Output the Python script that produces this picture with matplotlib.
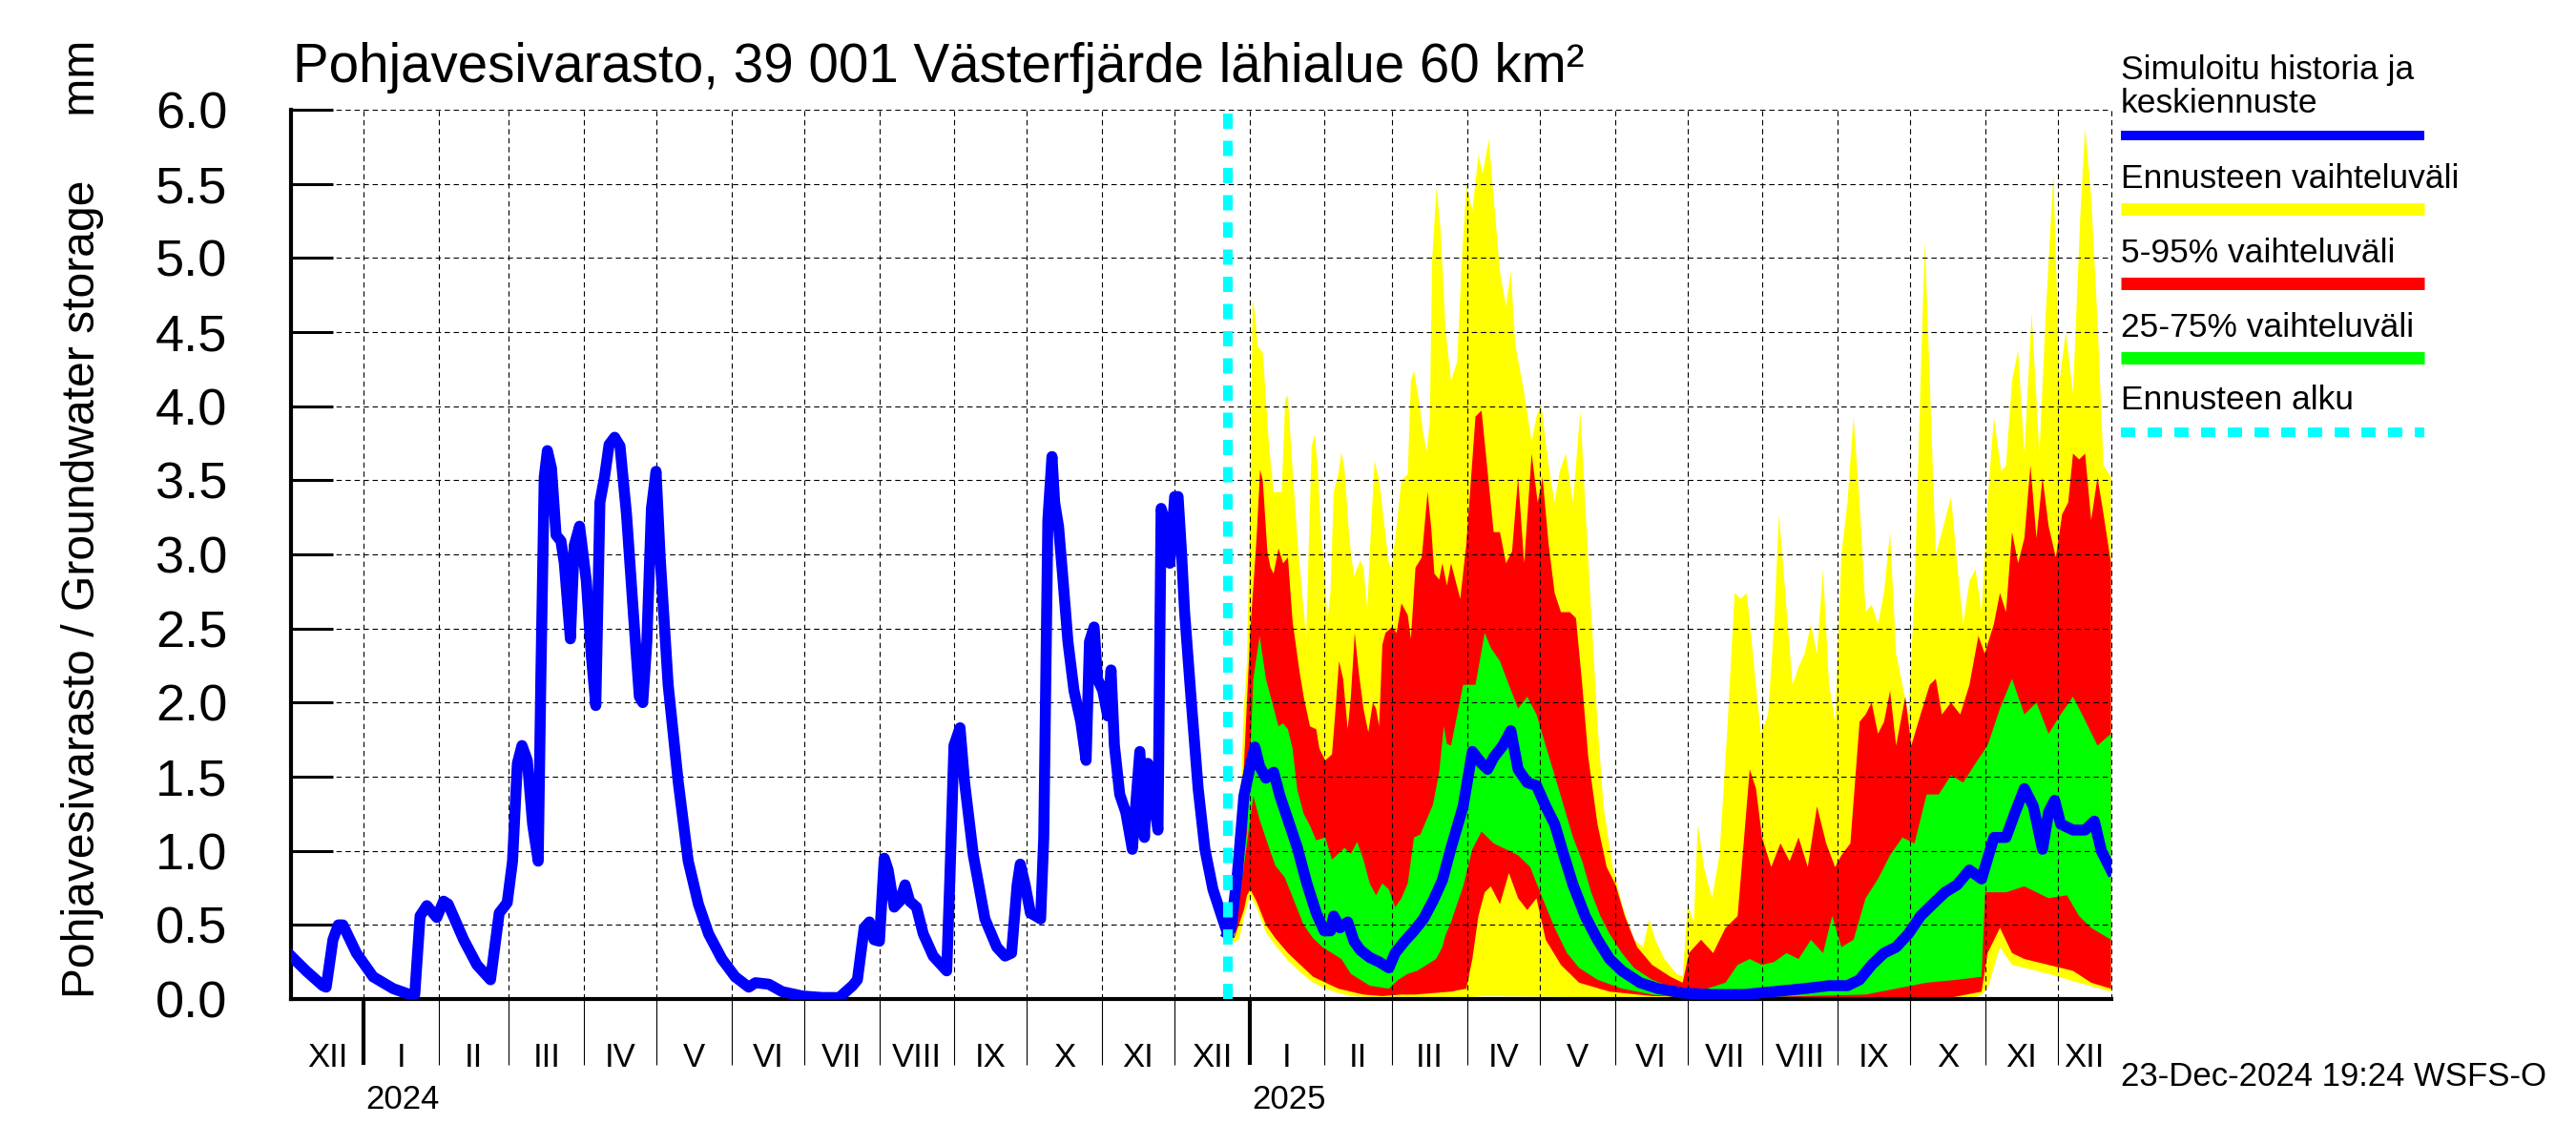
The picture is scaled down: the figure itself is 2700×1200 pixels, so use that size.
import numpy as np
import matplotlib
matplotlib.use("Agg")
from matplotlib import pyplot as plt
import matplotlib.dates as mdates
from matplotlib.lines import Line2D

plt.rcParams['font.family'] = ['Liberation Sans', 'DejaVu Sans']

# ---- data ----
# simulated history, days from 2024-01-01
hist_day = [-30, -23.8, -16.9, -15.5, -12.7, -10.5, -8.6, -3.0, 3.9, 12.2, 19.1, 21.1, 23.3, 26.1,
            30.2, 33.0, 34.9, 41.3, 46.8, 52.4, 56.0, 59.3, 61.5, 63.5, 65.4, 67.6, 69.8, 72.1,
            73.2, 74.6, 75.9, 77.6, 79.5, 81.5, 82.9, 85.4, 87.0, 89.2, 92.0, 94.0, 95.9, 97.6,
            99.5, 101.4, 103.7, 105.9, 108.6, 111.4, 113.9, 115.3, 117.0, 118.9, 120.8, 122.5,
            125.8, 130.0, 134.1, 138.3, 142.5, 148.0, 153.5, 159.1, 161.9, 167.4, 172.9, 181.3,
            189.6, 196.5, 202.0, 204.0, 206.8, 209.0, 210.9, 213.1, 215.1, 216.7, 219.2, 221.5,
            223.7, 225.6, 228.4, 231.2, 235.3, 240.9, 242.2, 243.9, 246.4, 248.3, 251.9, 256.7,
            261.6, 265.0, 267.7, 270.0, 271.3, 273.3, 275.5, 277.7, 279.7, 281.0, 282.7, 284.4,
            285.5, 287.1, 288.8, 291.0, 293.5, 296.3, 298.5, 299.9, 301.8, 303.2, 305.4, 307.4,
            308.8, 310.2, 312.4, 314.9, 317.6, 320.7, 322.6, 324.0, 326.0, 328.2, 329.5, 331.5,
            333.1, 335.1, 336.5, 337.9, 339.2, 342.0, 344.8, 347.6, 350.9, 354.5, 357.0]
hist_val = [0.29, 0.19, 0.09, 0.08, 0.40, 0.50, 0.50, 0.31, 0.15, 0.07, 0.03, 0.03, 0.56, 0.63,
            0.55, 0.66, 0.64, 0.40, 0.23, 0.13, 0.58, 0.65, 0.93, 1.59, 1.71, 1.61, 1.18, 0.93,
            2.16, 3.52, 3.70, 3.58, 3.13, 3.09, 2.94, 2.43, 3.06, 3.19, 2.82, 2.33, 1.98, 3.35,
            3.52, 3.74, 3.79, 3.73, 3.27, 2.61, 2.04, 2.00, 2.41, 3.31, 3.56, 2.98,
            2.12, 1.46, 0.93, 0.64, 0.44, 0.27, 0.15, 0.08, 0.11, 0.10, 0.05, 0.02,
            0.01, 0.01, 0.09, 0.13, 0.48, 0.52, 0.40, 0.39, 0.95, 0.87, 0.62, 0.66,
            0.77, 0.66, 0.62, 0.44, 0.29, 0.19, 0.81, 1.71, 1.83, 1.46, 0.97, 0.54,
            0.35, 0.29, 0.31, 0.77, 0.91, 0.77, 0.58, 0.56, 0.54, 1.09, 3.23, 3.66,
            3.35, 3.19, 2.86, 2.41, 2.08, 1.87, 1.61, 2.41, 2.51, 2.16, 2.08, 1.91,
            2.22, 1.71, 1.38, 1.26, 1.01, 1.67, 1.09, 1.59, 1.38, 1.14, 3.31, 3.19,
            2.94, 3.39, 3.39, 3.02, 2.61, 2.00, 1.42, 1.01, 0.74, 0.56, 0.44]

# forecast, days from 2025-01-01
max_day = [-9, -6.3, -4.3, -2.3, -1.0, 0.3, 1.3, 2.2, 3.5, 5.5, 6.8, 8.1, 10.0, 12.0, 13.3, 14.8,
           15.9, 17.2, 19.8, 22.4, 23.4, 24.3, 25.7, 27.0, 28.3, 29.6, 31.3, 32.2, 33.5, 34.8,
           36.7, 38.0, 39.3, 41.3, 43.2, 45.8, 47.1, 48.7, 50.0, 51.7, 53.6, 55.6, 57.6, 58.6,
           60.2, 62.8, 65.4, 66.7, 68.0, 69.9, 71.9, 73.2, 74.5, 75.5, 77.3, 79.0, 81.0, 83.3,
           85.8, 87.8, 89.6, 92.1, 94.6, 96.4, 98.9, 100.9, 103.5, 106.0, 108.0, 109.8, 113.5,
           116.6, 118.6, 120.6, 123.6, 126.1, 128.2, 130.7, 133.7, 136.7, 138.7, 141.2, 143.8,
           146.3, 150.1, 153.9, 158.9, 162.7, 165.2, 167.7, 171.5, 176.5, 179.0, 181.1, 183.6,
           185.3, 187.8, 191.1, 194.2, 197.2, 200.5, 203.0, 205.5, 208.0, 211.3, 214.3, 216.8,
           218.8, 221.4, 224.4, 226.9, 229.4, 232.0, 234.5, 237.0, 239.5, 242.0, 244.6, 247.1,
           249.6, 252.1, 254.6, 257.1, 259.7, 262.2, 264.7, 267.2, 269.8, 272.3, 274.8, 277.3,
           279.1, 281.1, 283.6, 286.1, 289.9, 292.4, 294.9, 297.5, 300.0, 302.5, 305.0, 307.6,
           310.6, 312.6, 315.1, 317.6, 320.2, 323.2, 326.4, 328.9, 332.2, 334.7, 337.3, 340.3,
           343.3, 345.3, 347.8, 350.4, 352.9, 356.0]
max_val = [0.45, 0.42, 1.09, 1.96, 2.28, 3.34, 4.72, 4.64, 4.40, 4.36, 4.05, 3.73, 3.42, 3.42, 3.42, 4.05,
           4.07, 3.73, 3.10, 2.63, 2.43, 2.94, 3.73, 3.81, 3.57, 3.14, 2.83, 2.55, 2.75, 3.42,
           3.54, 3.69, 3.57, 3.10, 2.85, 2.96, 2.91, 2.63, 3.10, 3.63, 3.50, 3.22, 2.94, 2.91,
           3.10, 3.50, 3.54, 4.17, 4.24, 4.05, 3.81, 3.69, 3.89, 4.99, 5.48, 5.19, 4.52, 4.17,
           4.30, 4.99, 5.49, 5.32, 5.69, 5.57, 5.80, 5.41, 4.91, 4.67, 4.91, 4.42, 4.09,
           3.76, 3.93, 4.01, 3.60, 3.35, 3.56, 3.68, 3.35, 3.97, 3.35, 2.61, 1.87,
           1.30, 0.89, 0.64, 0.40, 0.35, 0.54, 0.40, 0.27, 0.17, 0.15, 0.64, 0.52,
           1.18, 0.89, 0.68, 0.97, 1.75, 2.74, 2.70, 2.74, 2.33, 1.79, 1.92, 2.53,
           3.27, 2.74, 2.12, 2.24, 2.33, 2.53, 2.33, 2.90, 2.12, 1.87, 3.00, 3.35,
           3.93, 3.35, 2.61, 2.66, 2.53, 2.74, 3.15, 2.33, 2.12, 1.92, 2.74, 4.17,
           5.12, 4.17, 3.00, 3.15, 3.39, 2.94, 2.53, 2.82, 2.90, 2.61, 3.35, 3.93,
           3.56, 3.60, 4.17, 4.38, 3.68, 4.63, 3.68, 4.58, 5.57, 4.17, 4.50, 4.09,
           5.28, 5.88, 5.41, 4.58, 3.60, 3.52]

p95_day = [-9, -6.3, -2.3, 0.3, 2.9, 4.4, 5.5, 7.4, 8.7, 10.0, 12.0, 13.9, 15.9, 17.8, 20.4, 22.4,
           25.0, 27.6, 28.9, 31.3, 34.1, 35.4, 37.0, 38.7, 40.6, 41.9, 43.5, 45.2, 47.1, 49.1,
           51.0, 52.3, 53.6, 54.9, 56.2, 58.9, 60.8, 62.8, 65.4, 66.7, 68.6, 71.2, 73.6, 75.1,
           76.4, 78.4, 79.7, 81.6, 83.3, 87.1, 89.6, 93.4, 95.9, 98.4, 100.9, 103.5, 106.0,
           108.5, 111.0, 113.5, 116.6, 119.1, 121.1, 123.6, 126.1, 128.7, 132.4, 134.9, 137.5,
           140.0, 143.8, 147.6, 151.3, 155.1, 160.2, 166.4, 174.0, 179.0, 181.6, 186.6, 191.6,
           196.7, 201.7, 204.2, 206.7, 209.3, 211.8, 215.6, 219.4, 223.2, 226.9, 230.7, 234.5,
           238.3, 242.0, 244.6, 248.3, 252.1, 254.6, 257.1, 259.7, 262.2, 264.7, 267.2, 271.0,
           273.5, 277.3, 281.1, 283.6, 286.1, 289.9, 293.7, 297.5, 301.2, 303.8, 307.6, 310.1,
           312.6, 315.1, 317.6, 320.2, 322.7, 325.2, 327.7, 330.2, 333.2, 335.8, 338.3, 340.3,
           342.8, 345.3, 347.8, 350.4, 352.9, 356.0]
p95_val = [0.45, 0.42, 1.57, 2.47, 3.10, 3.57, 3.50, 3.02, 2.91, 2.87, 3.04, 2.94, 2.98, 2.55, 2.24, 2.04,
           1.84, 1.82, 1.69, 1.61, 1.65, 1.92, 2.28, 2.16, 1.82, 2.04, 2.47, 2.20, 1.96, 1.80,
           2.00, 1.96, 1.84, 2.39, 2.47, 2.51, 2.47, 2.67, 2.59, 2.43, 2.91, 2.98, 3.42, 3.18,
           2.87, 2.83, 2.94, 2.79, 2.94, 2.70, 3.07, 3.93, 3.97, 3.56, 3.15, 3.15, 2.94,
           3.02, 3.52, 2.94, 3.68, 3.35, 3.52, 3.07, 2.74, 2.61, 2.61, 2.57, 2.12,
           1.63, 1.18, 0.89, 0.77, 0.56, 0.35, 0.23, 0.15, 0.11, 0.31, 0.40, 0.31,
           0.48, 0.56, 1.05, 1.55, 1.42, 1.09, 0.89, 1.05, 0.93, 1.09, 0.89, 1.30,
           1.05, 0.89, 0.97, 1.05, 1.87, 1.92, 2.00, 1.79, 1.87, 2.08, 1.71, 2.04,
           1.71, 1.92, 2.12, 2.16, 1.92, 2.00, 1.92, 2.12, 2.45, 2.33, 2.53, 2.74,
           2.61, 3.15, 2.94, 3.11, 3.60, 3.11, 3.52, 3.19, 2.98, 3.27, 3.35, 3.68,
           3.64, 3.68, 3.23, 3.52, 3.27, 2.94]

p75_day = [-9, -6.3, -1.0, 1.6, 4.2, 6.8, 9.4, 12.0, 13.9, 15.9, 17.8, 19.8, 22.4, 25.0, 27.6, 31.3,
           34.1, 36.7, 39.3, 41.9, 44.5, 47.1, 49.7, 52.3, 54.9, 57.6, 60.2, 62.8, 65.4, 68.0,
           70.6, 73.2, 75.8, 78.4, 80.3, 81.6, 83.3, 88.3, 93.4, 97.2, 99.7, 103.5, 107.2,
           111.0, 114.8, 118.6, 122.4, 126.1, 129.9, 133.7, 137.5, 141.2, 145.0, 148.8, 153.9,
           158.9, 166.4, 174.0, 181.6, 189.1, 196.7, 201.7, 206.7, 211.8, 216.8, 221.9, 226.9,
           232.0, 237.0, 240.8, 244.6, 249.6, 254.6, 259.7, 264.7, 269.8, 274.8, 279.8, 284.8,
           289.9, 294.9, 300.0, 305.0, 310.1, 315.1, 320.2, 325.2, 330.2, 335.2, 340.3, 345.3,
           350.4, 356.0]
p75_val = [0.45, 0.42, 1.13, 2.16, 2.45, 2.16, 2.00, 1.84, 1.86, 1.82, 1.69, 1.41, 1.25, 1.17, 1.07, 1.09,
           0.94, 0.98, 1.02, 0.98, 1.06, 0.94, 0.78, 0.70, 0.78, 0.74, 0.62, 0.68, 0.78, 1.09,
           1.11, 1.21, 1.31, 1.53, 1.84, 1.72, 1.71, 2.12, 2.12, 2.47, 2.37, 2.28, 2.12,
           1.96, 2.04, 1.92, 1.71, 1.51, 1.30, 1.09, 0.93, 0.72, 0.56, 0.44, 0.31,
           0.21, 0.13, 0.08, 0.05, 0.07, 0.11, 0.23, 0.27, 0.23, 0.25, 0.31, 0.27,
           0.40, 0.31, 0.56, 0.35, 0.40, 0.68, 0.81, 0.97, 1.09, 1.05, 1.38, 1.38,
           1.51, 1.46, 1.59, 1.71, 1.96, 2.16, 1.92, 2.00, 1.79, 1.92, 2.04, 1.88,
           1.71, 1.79]

med_day = [-9, -7.6, -4.9, -2.3, 0.3, 2.2, 4.2, 6.8, 10.0, 12.6, 15.9, 19.8, 23.7, 27.6, 30.9, 33.5,
           34.8, 37.4, 40.6, 43.2, 45.8, 49.7, 53.6, 57.6, 60.2, 64.1, 68.0, 71.9, 75.8, 79.7,
           83.3, 88.3, 92.1, 95.9, 98.4, 100.9, 104.7, 108.0, 111.0, 114.8, 118.6, 122.4, 126.1,
           129.9, 133.7, 138.7, 143.8, 148.8, 153.9, 161.4, 168.9, 179.0, 191.6, 204.2, 216.8,
           229.4, 239.5, 247.1, 252.1, 257.1, 262.2, 267.2, 272.3, 277.3, 282.3, 287.4, 292.4,
           297.5, 302.5, 307.6, 312.6, 316.4, 320.2, 323.9, 327.7, 330.2, 332.7, 335.2, 340.3,
           345.3, 349.1, 352.0, 356.0]
med_val = [0.44, 0.48, 0.86, 1.37, 1.57, 1.70, 1.57, 1.49, 1.53, 1.37, 1.21, 1.02, 0.78, 0.58, 0.46, 0.46,
           0.56, 0.48, 0.52, 0.39, 0.33, 0.28, 0.25, 0.21, 0.31, 0.39, 0.46, 0.54, 0.66, 0.80,
           1.02, 1.30, 1.67, 1.59, 1.55, 1.63, 1.71, 1.81, 1.55, 1.46, 1.44, 1.30, 1.18,
           0.97, 0.77, 0.56, 0.40, 0.27, 0.19, 0.11, 0.07, 0.04, 0.03, 0.03, 0.05,
           0.07, 0.09, 0.09, 0.13, 0.23, 0.31, 0.35, 0.44, 0.56, 0.64, 0.72, 0.77,
           0.87, 0.81, 1.09, 1.09, 1.26, 1.42, 1.30, 1.01, 1.26, 1.34, 1.18, 1.14,
           1.14, 1.20, 1.00, 0.87]

p25_day = [-9, -6.3, 0.3, 1.6, 4.2, 8.1, 10.7, 14.6, 18.5, 22.4, 26.3, 30.2, 34.1, 38.0, 41.9, 45.8,
           49.7, 53.6, 57.6, 61.5, 65.4, 69.3, 73.2, 77.1, 79.7, 81.0, 83.3, 88.3, 92.1, 95.9,
           100.9, 106.0, 111.0, 116.0, 121.1, 126.1, 131.2, 136.2, 143.8, 153.9, 166.4, 179.0,
           204.2, 229.4, 254.6, 267.2, 279.8, 292.4, 302.5, 304.0, 312.6, 320.2, 330.2, 337.8,
           342.8, 347.8, 356.0]
p25_val = [0.45, 0.41, 1.21, 1.37, 1.21, 1.02, 0.90, 0.82, 0.66, 0.50, 0.41, 0.35, 0.31, 0.27, 0.17, 0.13,
           0.09, 0.08, 0.07, 0.13, 0.17, 0.19, 0.23, 0.27, 0.35, 0.43, 0.52, 0.76, 1.01, 1.13,
           1.05, 1.01, 0.97, 0.89, 0.68, 0.48, 0.31, 0.21, 0.13, 0.07, 0.03, 0.01,
           0.01, 0.02, 0.03, 0.07, 0.11, 0.13, 0.15, 0.72, 0.72, 0.76, 0.68, 0.70,
           0.56, 0.48, 0.40]

p5_day = [-9, -6.3, -2.3, -1.0, 0.3, 2.9, 6.8, 10.7, 15.9, 21.1, 26.3, 31.5, 36.7, 41.9, 47.1, 54.9,
          62.8, 68.6, 75.8, 83.3, 89.6, 92.1, 94.6, 97.2, 99.7, 103.5, 107.2, 111.0, 114.8,
          118.6, 122.4, 128.7, 136.2, 148.8, 166.4, 200.0, 250.0, 290.0, 302.5, 305.0, 310.1,
          315.1, 320.2, 330.2, 340.3, 347.8, 356.0]
p5_val = [0.45, 0.41, 0.60, 0.70, 0.74, 0.66, 0.50, 0.41, 0.31, 0.23, 0.15, 0.11, 0.07, 0.05, 0.03, 0.02,
          0.03, 0.03, 0.04, 0.05, 0.07, 0.27, 0.56, 0.72, 0.76, 0.64, 0.85, 0.68, 0.60,
          0.68, 0.40, 0.23, 0.11, 0.05, 0.02, 0.01, 0.01, 0.01, 0.05, 0.31, 0.48,
          0.31, 0.27, 0.23, 0.19, 0.11, 0.07]

min_day = [-9, -6.3, -4.3, -2.3, 0.3, 2.9, 6.8, 10.7, 15.9, 21.1, 26.3, 31.5, 36.7, 41.9, 50.0,
           89.6, 97.2, 150.0, 300.0, 302.5, 305.0, 310.1, 315.1, 330.2, 340.3, 356.0]
min_val = [0.45, 0.38, 0.40, 0.55, 0.70, 0.62, 0.45, 0.36, 0.26, 0.18, 0.11, 0.07, 0.04, 0.02, 0.01,
           0.01, 0.02, 0.01, 0.01, 0.03, 0.07, 0.35, 0.23, 0.17, 0.12, 0.05]

month_labels = ['I', 'II', 'III', 'IV', 'V', 'VI', 'VII', 'VIII', 'IX', 'X', 'XI', 'XII']
forecast_start = np.datetime64('2024-12-23')
x_start = np.datetime64('2023-12-02')
x_end = np.datetime64('2025-12-23')

title = "Pohjavesivarasto, 39 001 Västerfjärde lähialue 60 km²"
ylabel = "Pohjavesivarasto / Groundwater storage     mm"
legend_rows = [("Simuloitu historia ja\nkeskiennuste", "#0000ff"),
               ("Ennusteen vaihteluväli", "#ffff00"),
               ("5-95% vaihteluväli", "#ff0000"),
               ("25-75% vaihteluväli", "#00ff00"),
               ("Ennusteen alku", "#00ffff")]
stamp = "23-Dec-2024 19:24 WSFS-O"


def to_x(base, days):
    return mdates.date2num(np.datetime64(base)) + np.asarray(days, dtype=float)


def band(ax, up_day, up_val, lo_day, lo_val, color):
    xs = np.concatenate([to_x('2025-01-01', up_day), to_x('2025-01-01', lo_day)[::-1]])
    ys = np.concatenate([up_val, lo_val[::-1]])
    ax.fill(xs, ys, color=color, lw=0, zorder=1)


fig = plt.figure(figsize=(27, 12), dpi=100)
ax = fig.add_axes([0.113, 0.1275, 0.7065, 0.7767])

band(ax, max_day, max_val, min_day, min_val, "#ffff00")
band(ax, p95_day, p95_val, p5_day, p5_val, "#ff0000")
band(ax, p75_day, p75_val, p25_day, p25_val, "#00ff00")

ax.plot(to_x('2024-01-01', hist_day), hist_val, color="#0000ff", lw=8.3,
        solid_joinstyle='round', zorder=3)
ax.plot(to_x('2025-01-01', med_day), med_val, color="#0000ff", lw=8.3,
        solid_joinstyle='round', zorder=3)
ax.axvline(mdates.date2num(forecast_start), color="#00ffff", lw=7.2,
           linestyle=(0, (1.6, 1.25)), zorder=4)

xmin = mdates.date2num(x_start)
xmax = mdates.date2num(x_end)
ax.set_xlim(xmin, xmax)
ax.set_ylim(0, 6)
ax.xaxis_date()

# axes frame
for side in ['top', 'right']:
    ax.spines[side].set_visible(False)
for side in ['left', 'bottom']:
    ax.spines[side].set_linewidth(3)

ax.set_yticks(np.arange(0, 6.01, 0.5))
ax.set_yticklabels([f"{v:.1f}" for v in np.arange(0, 6.01, 0.5)])
ax.tick_params(axis='y', direction='in', length=32, width=2.2, pad=48, labelsize=39)

ax.xaxis.set_major_locator(mdates.YearLocator())
ax.xaxis.set_minor_locator(mdates.MonthLocator())
ax.xaxis.set_major_formatter(plt.NullFormatter())
ax.xaxis.set_minor_formatter(plt.NullFormatter())
ax.tick_params(axis='x', which='major', direction='out', length=50, width=3)
ax.tick_params(axis='x', which='minor', direction='out', length=50, width=0.8)

ax.set_axisbelow(False)
ax.grid(True, which='both', axis='x', color='black', lw=0.8, linestyle=(0, (5, 3.5)))
ax.grid(True, which='major', axis='y', color='black', lw=0.8, linestyle=(0, (5, 3.5)))
ax.axvline(xmax, color='black', lw=0.8, linestyle=(0, (5, 3.5)), clip_on=False)

# month and year labels under the axis
trans = ax.get_xaxis_transform()
m = np.datetime64('2023-12', 'M')
while m <= np.datetime64('2025-12', 'M'):
    a = max(mdates.date2num(m.astype('datetime64[D]')), xmin)
    b = min(mdates.date2num((m + 1).astype('datetime64[D]')), xmax)
    month_no = int(str(m)[5:7])
    ax.text((a + b) / 2, -0.0655, month_labels[month_no - 1], transform=trans,
            ha='center', va='center', fontsize=25)
    m += 1
for yr in ['2024', '2025']:
    ax.text(mdates.date2num(np.datetime64(yr + '-01-01')) + 1, -0.1127, yr, transform=trans,
            ha='left', va='center', fontsize=25)

fig.text(0.1137, 1 - 86 / 1200, title, fontsize=40.7, va='baseline', ha='left')
fig.text(0.0319, 1 - 1046 / 1200, ylabel, fontsize=34.6, rotation=90, va='bottom', ha='center')
fig.text(2223 / 2700, 1 - 1128 / 1200, stamp, fontsize=25, va='center', ha='left')

# legend drawn by hand at the right
lx0, lx1 = 2223 / 2700, 2541 / 2700
text_base = [83, 197, 275, 353, 429]
line_y = [142, 219, 297, 375, 453]
for i, (lab, col) in enumerate(legend_rows):
    if "\n" in lab:
        first, second = lab.split("\n")
        fig.text(lx0, 1 - text_base[i] / 1200, first, fontsize=25.5, va='baseline')
        fig.text(lx0, 1 - (text_base[i] + 35) / 1200, second, fontsize=25.5, va='baseline')
    else:
        fig.text(lx0, 1 - text_base[i] / 1200, lab, fontsize=25.5, va='baseline')
    y = 1 - line_y[i] / 1200
    if col == "#00ffff":
        fig.add_artist(Line2D([lx0, lx1], [y, y], transform=fig.transFigure, color=col,
                              lw=7.2, linestyle=(0, (1.5, 1.3))))
    elif col == "#0000ff":
        fig.add_artist(Line2D([lx0, lx1], [y, y], transform=fig.transFigure, color=col,
                              lw=7.2, solid_capstyle='butt'))
    else:
        fig.add_artist(Line2D([lx0, lx1], [y, y], transform=fig.transFigure, color=col,
                              lw=9.4, solid_capstyle='butt'))

fig.savefig("out.png", dpi=100)
